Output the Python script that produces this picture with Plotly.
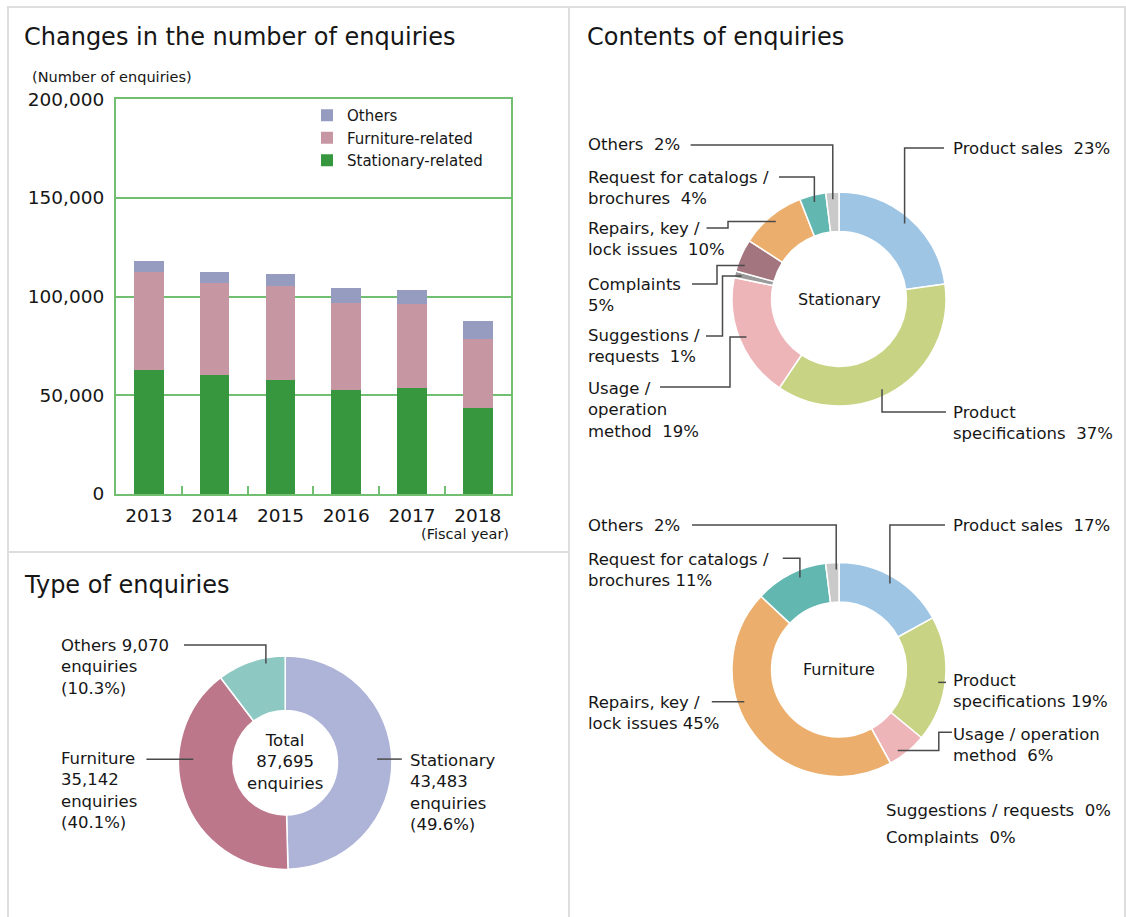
import math
import plotly.graph_objects as go

W, H = 1126, 917
FONT = "DejaVu Sans"
TEXT = "#161616"
GRID = "#72bf72"
PANEL_LINE = "#dedede"
LEADER = "#4a4a4a"

# ---- data -------------------------------------------------------------
years = ["2013", "2014", "2015", "2016", "2017", "2018"]
stationary_related = [62800, 60300, 57800, 52800, 53600, 43483]
furniture_related = [49600, 46500, 47600, 44100, 42500, 35142]
others_related = [5600, 5700, 6300, 7300, 7100, 9070]

type_labels = ["Stationary", "Furniture", "Others"]
type_counts = [43483, 35142, 9070]

content_labels = [
    "Product sales", "Product specifications", "Usage / operation method",
    "Suggestions / requests", "Complaints", "Repairs, key / lock issues",
    "Request for catalogs / brochures", "Others",
]
stationary_share = [23, 37, 19, 1, 5, 10, 4, 2]
furniture_share = [17, 19, 6, 0, 0, 45, 11, 2]

# ---- style ------------------------------------------------------------
BAR_COLORS = {"Stationary-related": "#36973f", "Furniture-related": "#c796a3", "Others": "#959cc0"}
TYPE_COLORS = ["#aeb3d8", "#bd778b", "#8dc8c3"]
CONTENT_COLORS = ["#9ec5e4", "#c8d483", "#eeb5b9", "#9a9a9a", "#a3757e", "#ebae6c", "#63b7b1", "#c9c9c9"]


def px(x):
    return x / W


def py(y):
    return 1 - y / H


def pie_domain(cx, cy, r):
    return dict(x=[px(cx - r), px(cx + r)], y=[py(cy + r), py(cy - r)])


def mid_angles(values):
    total = sum(values)
    out, acc = [], 0
    for v in values:
        out.append((acc + v / 2) / total * 360)
        acc += v
    return out


def ring_point(cx, cy, angle, r):
    a = math.radians(angle)
    return cx + r * math.sin(a), cy - r * math.cos(a)


def leader_path(kind, x0, y0, xe, ye, xk=None):
    if kind == "L":
        pts = [(x0, y0), (xe, y0), (xe, ye)]
    elif kind == "Z":
        pts = [(x0, y0), (xk, y0), (xk, ye), (xe, ye)]
    else:
        pts = [(x0, ye), (xe, ye)]
    return "M " + " L ".join(f"{px(x):.5f},{py(y):.5f}" for x, y in pts)


annotations = []
shapes = []


def label(text, x, y1, size=16.5, lines_gap=None, anchor="left"):
    n = text.count("<br>") + 1
    gap = lines_gap or size * 1.3
    if anchor == "left":
        x -= 2  # glyph side bearing
    annotations.append(dict(
        text=text, x=px(x), y=py(y1 + (n - 1) * gap / 2), xref="paper", yref="paper",
        xanchor=anchor, yanchor="middle", align=anchor if anchor != "center" else "center",
        showarrow=False, font=dict(size=size, color=TEXT, family=FONT),
    ))


def add_leaders(specs, values, cx, cy):
    mids = mid_angles(values)
    for idx, spec in specs:
        ang = mids[idx] + spec.get("da", 0)
        xe, ye = ring_point(cx, cy, ang, spec.get("r", 100))
        shapes.append(dict(
            type="path", xref="paper", yref="paper",
            path=leader_path(spec["kind"], spec["x0"], spec.get("y0", ye), xe, ye, spec.get("xk")),
            line=dict(color=LEADER, width=1.5),
        ))


fig = go.Figure()

# ---- stacked bars -----------------------------------------------------
for name, vals in [("Stationary-related", stationary_related),
                   ("Furniture-related", furniture_related),
                   ("Others", others_related)]:
    fig.add_trace(go.Bar(
        x=years, y=vals, name=name,
        marker=dict(color=BAR_COLORS[name], line=dict(width=0)),
        hovertemplate="%{x}: %{y:,}<extra>" + name + "</extra>",
    ))

# ---- type donut -------------------------------------------------------
T_CX, T_CY, T_R = 285.2, 762.7, 106.7
fig.add_trace(go.Pie(
    values=type_counts, labels=type_labels, domain=pie_domain(T_CX, T_CY, T_R),
    hole=0.49, sort=False, direction="clockwise", rotation=0,
    marker=dict(colors=TYPE_COLORS, line=dict(color="white", width=1.5)),
    textinfo="none", showlegend=False, automargin=False,
))

# ---- content donuts ---------------------------------------------------
S_CX, S_CY, R = 839, 299, 107
F_CX, F_CY = 839, 669.5
for vals, cy in [(stationary_share, S_CY), (furniture_share, F_CY)]:
    fig.add_trace(go.Pie(
        values=vals, labels=content_labels, domain=pie_domain(S_CX, cy, R),
        hole=0.63, sort=False, direction="clockwise", rotation=0,
        marker=dict(colors=CONTENT_COLORS, line=dict(color="white", width=1.5)),
        textinfo="none", showlegend=False, automargin=False,
    ))

# ---- panel frames -----------------------------------------------------
for x0, y0, x1, y1 in [(7, 7, 1126, 7), (8, 7, 8, 917), (569, 7, 569, 917),
                       (8, 552, 569, 552), (1125, 7, 1125, 917)]:
    shapes.append(dict(type="line", xref="paper", yref="paper",
                       x0=px(x0), y0=py(y0), x1=px(x1), y1=py(y1),
                       line=dict(color=PANEL_LINE, width=2)))

# ---- titles / axis notes ---------------------------------------------
label("Changes in the number of enquiries", 24, 37, size=24)
label("Contents of enquiries", 587, 37, size=24)
label("Type of enquiries", 24, 585, size=24)
label("(Number of enquiries)", 32, 77, size=14.5)
label("(Fiscal year)", 511, 534, size=14.5, anchor="right")

# ---- type donut labels ------------------------------------------------
total = sum(type_counts)
pct = [c / total * 100 for c in type_counts]
label(f"Total<br>{total:,}<br>enquiries", T_CX, 740, lines_gap=22, anchor="center")
label(f"Stationary<br>{type_counts[0]:,}<br>enquiries<br>({pct[0]:.1f}%)", 410, 759, lines_gap=22)
label(f"Furniture<br>{type_counts[1]:,}<br>enquiries<br>({pct[1]:.1f}%)", 61, 757, lines_gap=22)
label(f"Others {type_counts[2]:,}<br>enquiries<br>({pct[2]:.1f}%)", 61, 645, lines_gap=22)
add_leaders([
    (0, dict(kind="H", x0=401.8, r=92, da=-1.5)),
    (1, dict(kind="H", x0=146.4, r=92, da=21.5)),
    (2, dict(kind="L", x0=184, y0=645, r=101, da=7.6)),
], type_counts, T_CX, T_CY)

# ---- stationary labels ------------------------------------------------
sv = stationary_share
label("Stationary", S_CX, S_CY, size=16, anchor="center")
label(f"Product sales\u00a0 {sv[0]}%", 953, 148)
label(f"Product<br>specifications\u00a0 {sv[1]}%", 953, 412, lines_gap=22)
label(f"Usage /<br>operation<br>method\u00a0 {sv[2]}%", 588, 387, lines_gap=22.5)
label(f"Suggestions /<br>requests\u00a0 {sv[3]}%", 588, 335, lines_gap=22)
label(f"Complaints<br>{sv[4]}%", 588, 284, lines_gap=22)
label(f"Repairs, key /<br>lock issues\u00a0 {sv[5]}%", 588, 228, lines_gap=22)
label(f"Request for catalogs /<br>brochures\u00a0 {sv[6]}%", 588, 177, lines_gap=22)
label(f"Others\u00a0 {sv[7]}%", 588, 145)
add_leaders([
    (0, dict(kind="L", x0=944, y0=148)),
    (1, dict(kind="L", x0=946, y0=412, da=6.6)),
    (2, dict(kind="Z", x0=660, y0=387, xk=730)),
    (3, dict(kind="Z", x0=706, y0=336, xk=722.5)),
    (4, dict(kind="Z", x0=692, y0=284, xk=717, da=-4.5)),
    (5, dict(kind="Z", x0=706.5, y0=228, xk=728)),
    (6, dict(kind="L", x0=779, y0=177)),
    (7, dict(kind="L", x0=690.6, y0=145)),
], sv, S_CX, S_CY)

# ---- furniture labels -------------------------------------------------
fv = furniture_share
label("Furniture", F_CX, F_CY, size=16, anchor="center")
label(f"Product sales\u00a0 {fv[0]}%", 953, 525)
label(f"Product<br>specifications {fv[1]}%", 953, 680, lines_gap=22)
label(f"Usage / operation<br>method\u00a0 {fv[2]}%", 953, 734, lines_gap=22)
label(f"Repairs, key /<br>lock issues {fv[5]}%", 588, 702, lines_gap=22)
label(f"Request for catalogs /<br>brochures {fv[6]}%", 588, 559, lines_gap=22)
label(f"Others\u00a0 {fv[7]}%", 588, 525)
label(f"Suggestions / requests\u00a0 {fv[3]}%", 885.6, 810)
label(f"Complaints\u00a0 {fv[4]}%", 885.6, 837)
add_leaders([
    (0, dict(kind="L", x0=945, y0=525)),
    (1, dict(kind="H", x0=946, da=2)),
    (2, dict(kind="Z", x0=952, y0=732.3, xk=938.8, da=3.6)),
    (5, dict(kind="H", x0=711.8, da=19)),
    (6, dict(kind="L", x0=782.8, y0=558.3, da=4)),
    (7, dict(kind="L", x0=692, y0=525, da=2)),
], fv, F_CX, F_CY)

fig.update_layout(
    width=W, height=H, autosize=False,
    margin=dict(l=0, r=0, t=0, b=0, pad=0, autoexpand=False),
    paper_bgcolor="white", plot_bgcolor="white",
    font=dict(family=FONT, color=TEXT),
    barmode="stack", bargap=0.55,
    xaxis=dict(
        domain=[px(116), px(510.7)], type="category", automargin=False,
        showline=True, linecolor=GRID, linewidth=2, mirror=True,
        ticks="inside", tickson="boundaries", ticklen=8, tickcolor=GRID, tickwidth=2,
        tickfont=dict(size=18.5, color=TEXT), ticklabelstandoff=4,
        showgrid=False, fixedrange=True,
    ),
    yaxis=dict(
        domain=[py(494), py(99.3)], range=[0, 200000], dtick=50000, tickformat=",d",
        automargin=False,
        showline=True, linecolor=GRID, linewidth=2, mirror=True,
        showgrid=True, gridcolor=GRID, gridwidth=2, zeroline=False,
        ticks="", tickfont=dict(size=18.5, color=TEXT), ticklabelstandoff=6,
        fixedrange=True,
    ),
    legend=dict(
        x=px(307), y=py(99), xanchor="left", yanchor="top",
        traceorder="reversed", bgcolor="rgba(0,0,0,0)",
        font=dict(size=15, color=TEXT, family=FONT),
    ),
    annotations=annotations,
    shapes=shapes,
)

fig.write_html(
    "out.html",
    config={"displayModeBar": False},
    post_script="document.body.style.margin='0';document.body.style.overflow='hidden';",
)
